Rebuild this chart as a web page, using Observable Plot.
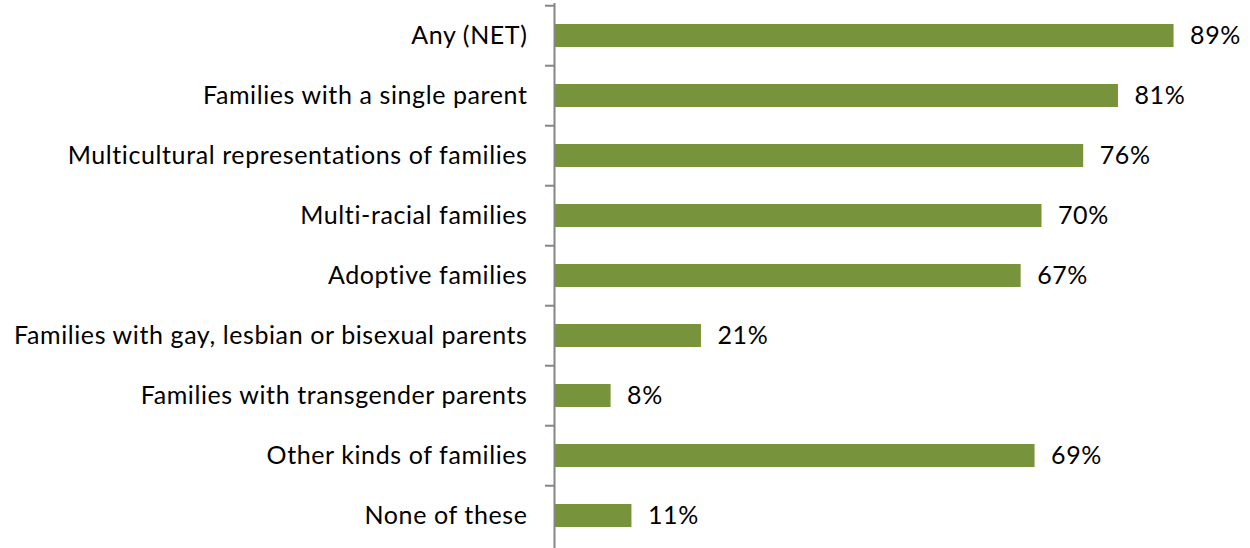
<!DOCTYPE html>
<html>
<head>
<meta charset="utf-8">
<script src="https://cdn.jsdelivr.net/npm/d3@7"></script>
<script src="https://cdn.jsdelivr.net/npm/@observablehq/plot@0.6"></script>
<style>
  html, body { margin: 0; padding: 0; background: #fff; }
  #chart svg { display: block; }
  #chart svg text { letter-spacing: 0.6px; }
</style>
</head>
<body>
<div id="chart"></div>
<script>
const categories = [
  "Any (NET)",
  "Families with a single parent",
  "Multicultural representations of families",
  "Multi-racial families",
  "Adoptive families",
  "Families with gay, lesbian or bisexual parents",
  "Families with transgender parents",
  "Other kinds of families",
  "None of these"
];
const values = [89, 81, 76, 70, 67, 21, 8, 69, 11];

const data = categories.map((c, i) => ({category: c, value: values[i]}));

const H = 548;
const step = (H - 3) / categories.length;
const font = "Lato, 'Open Sans', sans-serif";

const chart = Plot.plot({
  width: 1250,
  height: H,
  marginLeft: 555,
  marginRight: 0,
  marginTop: 3,
  marginBottom: 0,
  style: {fontFamily: font, fontSize: "25px", color: "#000", background: "#fff"},
  x: {domain: [0, 100], axis: null},
  y: {domain: categories, paddingInner: 0.62, paddingOuter: 0.31, label: null},
  marks: [
    Plot.barX(data, {x: "value", y: "category", fill: "#77933C"}),
    Plot.axisY({tickSize: 0, tickPadding: 28, fontSize: 25, fill: "#000", label: null}),
    Plot.axisY({tickSize: 9, tickFormat: () => "", dy: -step / 2, dx: -1, stroke: "#868686", strokeWidth: 2, label: null}),
    Plot.ruleX([0], {dx: -1, stroke: "#868686", strokeWidth: 2}),
    Plot.text(data, {x: "value", y: "category", text: d => d.value + "%", dx: 16, textAnchor: "start", fontSize: 25, fill: "#000"})
  ]
});
document.getElementById("chart").appendChild(chart);
</script>
</body>
</html>
